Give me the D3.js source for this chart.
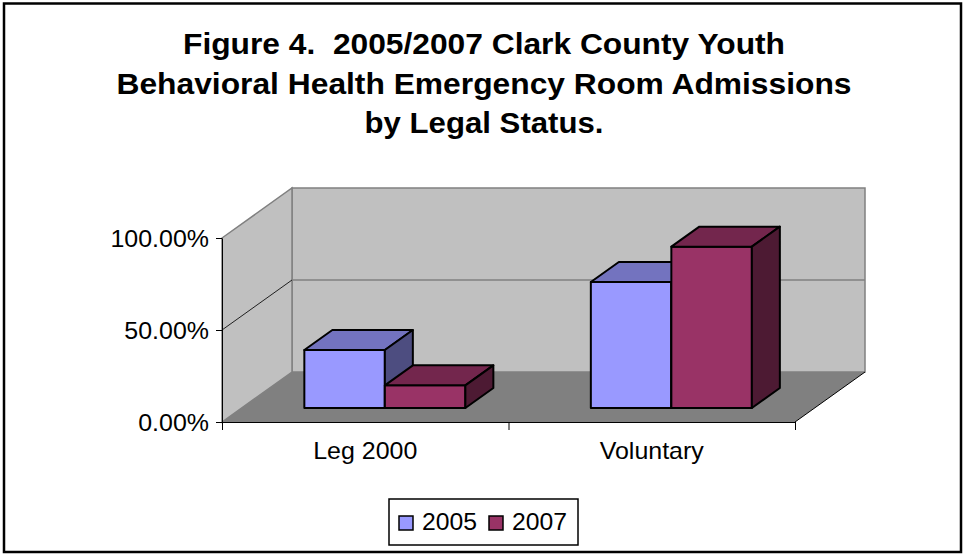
<!DOCTYPE html>
<html>
<head>
<meta charset="utf-8">
<script src="https://cdn.jsdelivr.net/npm/d3@7"></script>
<style>
body{margin:0;background:#fff;}
text{font-family:"Liberation Sans",Arial,sans-serif;fill:#000;}
</style>
</head>
<body>
<svg width="965" height="556"></svg>
<script>
var categories=["Leg 2000","Voluntary"]
var years=["2005","2007"]
var values2005=[0.315,0.685]
var values2007=[0.123,0.877]
var yTicks=[0,0.5,1]
var titleLines=["Figure 4.  2005/2007 Clark County Youth","Behavioral Health Emergency Room Admissions","by Legal Status."]
var titleWidths=[602,735,239]

var colors={
  "2005":{front:"#9999FF",top:"#7373BF",side:"#4D4D80"},
  "2007":{front:"#993366",top:"#73264D",side:"#4D1A33"}
}

var svg=d3.select("svg")

// stretch text a bit wider, like the original rendering
var widen=function(sel,k)
{
  sel.each(function(){
    var w=this.getComputedTextLength()
    d3.select(this).attr("textLength",w*k).attr("lengthAdjust","spacingAndGlyphs")
  })
}

// outer frame
svg.append("rect")
  .attr("x",4).attr("y",3.5)
  .attr("width",957).attr("height",548.5)
  .attr("fill","#fff").attr("stroke","#000").attr("stroke-width",2.5)

svg.append("g").selectAll("text")
  .data(titleLines)
  .enter()
  .append("text")
  .attr("xml:space","preserve")
  .style("white-space","pre")
  .attr("x",484)
  .attr("y",function(d,i){return 54+i*39.5})
  .attr("text-anchor","middle")
  .attr("textLength",function(d,i){return titleWidths[i]})
  .attr("lengthAdjust","spacingAndGlyphs")
  .style("font-size","29px")
  .style("font-weight","bold")
  .text(function(d){return d})

// plot geometry (front plane + depth offset)
var plot={left:222,right:795,top:238,bottom:422}
var depth={dx:70,dy:-50}

var yScale=d3.scaleLinear().domain([0,1]).range([plot.bottom,plot.top])
var xScale=d3.scaleBand().domain(categories).range([plot.left,plot.right])
  .paddingInner(0.438).paddingOuter(0.219)
var xInner=d3.scaleBand().domain(years).range([0,xScale.bandwidth()])

var proj=function(x,y,z){return [x+z*depth.dx,y+z*depth.dy]}
var poly=function(pts){return "M"+pts.map(function(p){return p[0]+","+p[1]}).join("L")+"Z"}

var g=svg.append("g")

// back wall
g.append("path")
  .attr("d",poly([proj(plot.left,plot.top,1),proj(plot.right,plot.top,1),proj(plot.right,plot.bottom,1),proj(plot.left,plot.bottom,1)]))
  .attr("fill","#C0C0C0").attr("stroke","#808080").attr("stroke-width",1.5)
// side wall
g.append("path")
  .attr("d",poly([[plot.left,plot.top],proj(plot.left,plot.top,1),proj(plot.left,plot.bottom,1),[plot.left,plot.bottom]]))
  .attr("fill","#C0C0C0").attr("stroke","#808080").attr("stroke-width",1.5)
// floor
g.append("path")
  .attr("d",poly([[plot.left,plot.bottom],proj(plot.left,plot.bottom,1),proj(plot.right,plot.bottom,1),[plot.right,plot.bottom]]))
  .attr("fill","#808080").attr("stroke","none")
g.append("line")
  .attr("x1",plot.right).attr("y1",plot.bottom)
  .attr("x2",proj(plot.right,plot.bottom,1)[0]).attr("y2",proj(plot.right,plot.bottom,1)[1])
  .attr("stroke","#000").attr("stroke-width",1)

// gridlines
yTicks.filter(function(t){return t>0&&t<1}).forEach(function(t){
  var y=yScale(t)
  g.append("line")
    .attr("x1",plot.left).attr("y1",y)
    .attr("x2",proj(plot.left,y,1)[0]).attr("y2",proj(plot.left,y,1)[1])
    .attr("stroke","#202020").attr("stroke-width",1)
  g.append("line")
    .attr("x1",proj(plot.left,y,1)[0]).attr("x2",proj(plot.right,y,1)[0])
    .attr("y1",proj(0,y,1)[1]).attr("y2",proj(0,y,1)[1])
    .attr("stroke","#808080").attr("stroke-width",1.5)
})

// bars
var bars=[]
categories.forEach(function(c,i){
  bars.push({cat:c,year:"2005",value:values2005[i]})
  bars.push({cat:c,year:"2007",value:values2007[i]})
})
var z0=0.28,z1=0.68
var barG=g.selectAll(".bar").data(bars).enter().append("g").attr("class","bar")
barG.each(function(d){
  var x0=xScale(d.cat)+xInner(d.year)
  var x1=x0+xInner.bandwidth()
  var yb=plot.bottom, yt=yScale(d.value)
  var c=colors[d.year]
  var sel=d3.select(this)
  sel.append("path")
    .attr("d",poly([proj(x0,yt,z0),proj(x1,yt,z0),proj(x1,yb,z0),proj(x0,yb,z0)]))
    .attr("fill",c.front)
  sel.append("path")
    .attr("d",poly([proj(x0,yt,z0),proj(x0,yt,z1),proj(x1,yt,z1),proj(x1,yt,z0)]))
    .attr("fill",c.top)
  sel.append("path")
    .attr("d",poly([proj(x1,yt,z0),proj(x1,yt,z1),proj(x1,yb,z1),proj(x1,yb,z0)]))
    .attr("fill",c.side)
  sel.selectAll("path").attr("stroke","#000").attr("stroke-width",2).attr("stroke-linejoin","round")
})

// y axis
var yAxis=d3.axisLeft(yScale).tickValues(yTicks).tickFormat(d3.format(".2%"))
  .tickSizeOuter(0).tickSizeInner(6).tickPadding(7)
var ya=svg.append("g").attr("transform","translate("+plot.left+",0)").call(yAxis)
ya.selectAll("text").style("font-size","24px").attr("dy","0.36em").call(widen,1.04)
ya.selectAll("line,path").attr("stroke","#000")

// x axis
var xTickScale=d3.scaleLinear().domain([0,categories.length]).range([plot.left,plot.right])
var xa=svg.append("g").attr("transform","translate(0,"+plot.bottom+")")
  .call(d3.axisBottom(xTickScale).tickValues(d3.range(categories.length+1)).tickFormat("").tickSizeOuter(0).tickSizeInner(8))
xa.selectAll("line,path").attr("stroke","#000")
svg.append("g").attr("transform","translate(0,"+plot.bottom+")")
  .call(d3.axisBottom(xScale).tickSize(0).tickPadding(20))
  .call(function(s){s.select(".domain").remove()})
  .selectAll("text").style("font-size","24px").attr("dy","0.71em").call(widen,1.04)

// legend
var lg=svg.append("g").attr("transform","translate(389,499)")
lg.append("rect").attr("width",189).attr("height",46).attr("fill","#fff").attr("stroke","#000").attr("stroke-width",1.5)
var li=lg.selectAll(".li").data(years).enter().append("g")
  .attr("transform",function(d,i){return "translate("+(10+i*90)+",0)"})
li.append("rect").attr("x",0).attr("y",17).attr("width",14).attr("height",14)
  .attr("fill",function(d){return colors[d].front}).attr("stroke","#000").attr("stroke-width",1.5)
li.append("text").attr("x",23).attr("y",31).style("font-size","24px").text(function(d){return d}).call(widen,1.03)
</script>
</body>
</html>
